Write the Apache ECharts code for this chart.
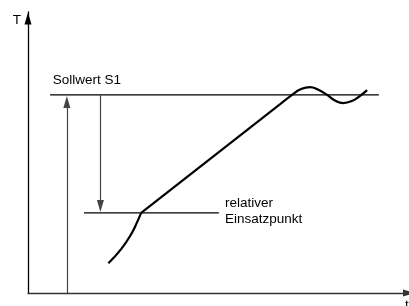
<!DOCTYPE html>
<html>
<head>
<meta charset="utf-8">
<script src="https://cdn.jsdelivr.net/npm/echarts@6/dist/echarts.min.js"></script>
<style>
  html, body { margin: 0; padding: 0; background: #fff; }
  #chart { width: 409px; height: 306px; }
</style>
</head>
<body>
<div id="chart"></div>
<script>
(function() {
  // Zeit t und Temperatur T, beide 0..100
  var sollwert = 70.5;
  var einsatzpunkt = 28.5;
  var sollwertBereich = [5.8, 92.1];
  var einsatzBereich = [14.7, 50.1];
  var anlauf = [[21.1, 10.6], [24.6, 15.9], [27.2, 21.2], [28.7, 25.4], [29.7, 28.5]];
  var rampe = [[29.7, 28.5], [66.1, 67.1]];
  var schwingung = [[66.1, 67.1], [69.3, 70.5], [71.4, 72.4], [74.0, 73.3], [76.1, 72.4], [78.5, 70.5],
                    [80.6, 68.5], [82.7, 67.6], [85.0, 68.3], [87.1, 70.1], [89.0, 72.2]];
  // Pfeile: [t, von T, bis T]
  var pfeilHoch = [10.2, 0, 68.0];
  var pfeilRunter = [19.0, 70.5, 31.0];

  var myChart = echarts.init(document.getElementById('chart'));
  var schrift = '13.5px "Liberation Sans", Arial, sans-serif';

  var option = {
    animation: false,
    grid: { left: 28, right: 0, top: 12, bottom: 13 },
    xAxis: {
      type: 'value', min: 0, max: 100,
      axisLine: {
        show: true, symbol: ['none', 'triangle'], symbolSize: [7, 12],
        lineStyle: { color: '#333', width: 1.3 }
      },
      axisTick: { show: false },
      axisLabel: { show: false },
      splitLine: { show: false }
    },
    yAxis: {
      type: 'value', min: 0, max: 100,
      axisLine: {
        show: true, symbol: ['none', 'triangle'], symbolSize: [7, 12], symbolOffset: [0, -6.5],
        lineStyle: { color: '#000', width: 1.3 }
      },
      axisTick: { show: false },
      axisLabel: { show: false },
      splitLine: { show: false }
    },
    graphic: [
      { type: 'text', x: 12.7, y: 20.2, style: { text: 'T', font: schrift, fill: '#000', verticalAlign: 'middle' } },
      { type: 'text', x: 52.7, y: 80.3, style: { text: 'Sollwert S1', font: schrift, fill: '#000', verticalAlign: 'middle' } },
      { type: 'text', x: 225, y: 203.2, style: { text: 'relativer', font: schrift, fill: '#000', verticalAlign: 'middle' } },
      { type: 'text', x: 225, y: 218.8, style: { text: 'Einsatzpunkt', font: schrift, fill: '#000', verticalAlign: 'middle' } },
      { type: 'text', x: 405, y: 305, style: { text: 't', font: schrift, fill: '#000', verticalAlign: 'middle' } }
    ],
    series: [
      {
        type: 'line', silent: true, showSymbol: false,
        data: [[sollwertBereich[0], sollwert], [sollwertBereich[1], sollwert]],
        lineStyle: { color: '#000', width: 1.2 },
        markLine: {
          silent: true,
          symbol: ['none', 'triangle'],
          symbolSize: [7, 12],
          label: { show: false },
          lineStyle: { color: '#444', width: 1.2, type: 'solid' },
          data: [
            [{ coord: [pfeilHoch[0], pfeilHoch[1]] }, { coord: [pfeilHoch[0], pfeilHoch[2]] }],
            [{ coord: [pfeilRunter[0], pfeilRunter[1]] }, { coord: [pfeilRunter[0], pfeilRunter[2]] }]
          ]
        }
      },
      {
        type: 'line', silent: true, showSymbol: false,
        data: [[einsatzBereich[0], einsatzpunkt], [einsatzBereich[1], einsatzpunkt]],
        lineStyle: { color: '#000', width: 1.2 }
      },
      {
        type: 'line', silent: true, showSymbol: false, smooth: true,
        data: anlauf,
        lineStyle: { color: '#000', width: 2.2 }
      },
      {
        type: 'line', silent: true, showSymbol: false,
        data: rampe,
        lineStyle: { color: '#000', width: 2.2 }
      },
      {
        type: 'line', silent: true, showSymbol: false, smooth: true,
        data: schwingung,
        lineStyle: { color: '#000', width: 2.2 }
      }
    ]
  };

  myChart.setOption(option);
  window.addEventListener('resize', function() {
    myChart.resize();
  });
})();
</script>
</body>
</html>
